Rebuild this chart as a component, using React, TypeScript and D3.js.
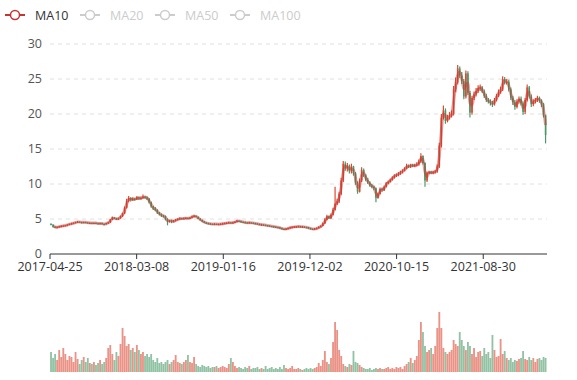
import React from 'react';
import * as d3 from 'd3';

const legendNames = ['MA10', 'MA20', 'MA50', 'MA100'];
const legendActive = [true, false, false, false];
const tickLabels = ['2017-04-25', '2018-03-08', '2019-01-16', '2019-12-02', '2020-10-15', '2021-08-30'];
const tickDayIndex = [0, 212, 424, 636, 848, 1060];
const totalDays = 1216;
const daysPerPoint = 5;
const yTicks = [0, 5, 10, 15, 20, 25, 30];
const firstOpen = 4.3;

const closes = [
  4.2, 3.9, 3.8, 3.85, 3.95, 4.0, 4.05, 4.1, 4.2, 4.3,
  4.35, 4.45, 4.55, 4.6, 4.55, 4.5, 4.55, 4.5, 4.45, 4.45,
  4.4, 4.45, 4.4, 4.35, 4.4, 4.3, 4.25, 4.4, 4.5, 4.9,
  5.2, 5.05, 5.0, 5.1, 5.4, 5.8, 6.6, 7.6, 8.0, 7.7,
  7.9, 7.8, 8.1, 7.9, 8.0, 8.2, 8.1, 7.9, 7.4, 6.8,
  6.5, 6.3, 5.9, 5.7, 5.5, 5.4, 5.0, 4.6, 4.8, 4.6,
  4.75, 4.9, 5.0, 5.1, 5.05, 5.1, 5.15, 5.1, 5.2, 5.35,
  5.45, 5.3, 5.05, 4.85, 4.65, 4.5, 4.4, 4.35, 4.3, 4.25,
  4.3, 4.25, 4.28, 4.3, 4.35, 4.4, 4.45, 4.5, 4.45, 4.5,
  4.6, 4.75, 4.7, 4.6, 4.55, 4.5, 4.45, 4.5, 4.45, 4.4,
  4.35, 4.3, 4.2, 4.2, 4.15, 4.1, 4.05, 4.0, 3.95, 3.9,
  3.85, 3.8, 3.7, 3.6, 3.55, 3.6, 3.7, 3.8, 3.85, 3.9,
  3.9, 3.95, 3.9, 3.9, 3.85, 3.8, 3.7, 3.6, 3.55, 3.6,
  3.7, 3.85, 4.0, 4.4, 4.9, 5.4, 5.1, 5.6, 6.3, 7.2,
  7.5, 8.6, 10.5, 12.9, 12.2, 12.6, 11.8, 12.5, 11.5, 10.2,
  8.9, 10.5, 12.0, 11.2, 10.6, 10.2, 9.8, 9.6, 9.4, 8.0,
  8.6, 9.3, 9.1, 9.6, 10.1, 10.3, 10.6, 10.9, 11.2, 11.3,
  11.5, 11.7, 11.9, 12.2, 12.6, 12.5, 12.7, 12.6, 12.7, 12.8,
  13.2, 14.0, 13.0, 10.5, 11.6, 11.7, 11.6, 11.7, 11.8, 12.5,
  15.5, 19.5, 20.5, 19.0, 19.5, 19.8, 20.0, 23.5, 24.5, 26.5,
  25.5, 24.7, 22.5, 25.8, 23.0, 20.2, 22.3, 22.8, 23.3, 23.7,
  23.8, 23.2, 22.6, 22.0, 21.8, 21.6, 21.4, 22.0, 22.6, 23.2,
  23.5, 25.0, 24.5, 24.6, 23.5, 22.3, 21.7, 21.0, 21.8, 22.2,
  21.5, 20.3, 22.0, 23.8, 22.5, 21.4, 21.8, 22.0, 22.3, 21.9,
  21.4, 19.8, 17.0,
];

const highs = [
  4.4, 4.25, 3.95, 3.95, 4.0, 4.1, 4.1, 4.15, 4.25, 4.35,
  4.45, 4.5, 4.6, 4.7, 4.65, 4.6, 4.6, 4.6, 4.55, 4.5,
  4.5, 4.5, 4.5, 4.45, 4.45, 4.45, 4.35, 4.45, 4.6, 5.0,
  5.35, 5.25, 5.15, 5.2, 5.5, 5.9, 6.8, 7.9, 8.3, 8.1,
  8.1, 8.0, 8.3, 8.2, 8.2, 8.5, 8.3, 8.2, 8.0, 7.5,
  6.9, 6.7, 6.4, 6.0, 5.8, 5.6, 5.5, 5.1, 4.9, 4.9,
  4.85, 5.0, 5.1, 5.2, 5.15, 5.2, 5.25, 5.2, 5.3, 5.5,
  5.6, 5.5, 5.35, 5.1, 4.9, 4.7, 4.55, 4.45, 4.4, 4.35,
  4.4, 4.35, 4.35, 4.4, 4.45, 4.5, 4.55, 4.6, 4.55, 4.6,
  4.7, 4.85, 4.8, 4.75, 4.65, 4.6, 4.55, 4.6, 4.55, 4.5,
  4.45, 4.4, 4.35, 4.3, 4.25, 4.2, 4.15, 4.1, 4.05, 4.0,
  3.95, 3.9, 3.85, 3.75, 3.65, 3.7, 3.8, 3.9, 3.95, 4.0,
  4.0, 4.05, 4.0, 4.0, 3.95, 3.9, 3.85, 3.75, 3.65, 3.7,
  3.8, 3.95, 4.1, 4.5, 5.1, 5.6, 5.5, 5.8, 6.6, 9.6,
  7.9, 8.9, 10.9, 13.3, 13.2, 13.0, 12.8, 12.9, 12.6, 11.7,
  10.4, 10.8, 12.4, 12.2, 11.4, 10.9, 10.4, 10.0, 9.8, 9.5,
  8.8, 9.5, 9.5, 9.8, 10.3, 10.5, 10.8, 11.1, 11.4, 11.5,
  11.7, 11.9, 12.1, 12.4, 12.9, 12.8, 12.9, 12.9, 12.9, 13.1,
  13.5, 14.4, 14.1, 13.1, 11.8, 11.9, 11.9, 11.9, 12.0, 12.8,
  15.9, 20.0, 21.2, 20.8, 19.9, 20.3, 20.5, 24.0, 25.2, 27.0,
  26.8, 26.0, 25.0, 26.2, 26.1, 23.3, 22.6, 23.2, 23.7, 24.1,
  24.2, 24.0, 23.5, 22.9, 22.3, 22.1, 21.9, 22.3, 22.9, 23.5,
  23.9, 25.4, 25.3, 25.0, 24.9, 23.8, 22.6, 22.0, 22.1, 22.5,
  22.5, 21.8, 22.3, 24.2, 24.0, 22.8, 22.1, 22.3, 22.6, 22.5,
  22.1, 21.6, 19.9,
];

const lows = [
  4.1, 3.8, 3.7, 3.75, 3.8, 3.9, 3.95, 4.0, 4.05, 4.15,
  4.25, 4.3, 4.4, 4.5, 4.45, 4.4, 4.45, 4.45, 4.4, 4.35,
  4.35, 4.35, 4.35, 4.3, 4.3, 4.25, 4.1, 4.2, 4.35, 4.45,
  4.85, 5.0, 4.9, 4.9, 5.05, 5.3, 5.7, 6.5, 7.4, 7.5,
  7.6, 7.6, 7.7, 7.7, 7.8, 7.9, 7.9, 7.7, 7.2, 6.6,
  6.3, 6.1, 5.7, 5.5, 5.3, 5.2, 4.8, 4.1, 4.5, 4.4,
  4.5, 4.65, 4.8, 4.9, 4.95, 4.95, 5.0, 5.0, 5.0, 5.1,
  5.25, 5.2, 5.0, 4.75, 4.55, 4.4, 4.3, 4.25, 4.2, 4.15,
  4.15, 4.15, 4.2, 4.2, 4.25, 4.3, 4.35, 4.4, 4.35, 4.4,
  4.45, 4.55, 4.6, 4.5, 4.45, 4.4, 4.35, 4.4, 4.35, 4.3,
  4.25, 4.2, 4.1, 4.1, 4.05, 4.0, 3.95, 3.9, 3.85, 3.8,
  3.75, 3.7, 3.6, 3.5, 3.45, 3.5, 3.55, 3.65, 3.75, 3.8,
  3.8, 3.85, 3.8, 3.8, 3.75, 3.7, 3.6, 3.5, 3.45, 3.5,
  3.55, 3.65, 3.8, 3.95, 4.3, 4.8, 5.0, 5.0, 5.5, 6.2,
  7.0, 7.3, 8.4, 10.3, 11.9, 11.8, 11.5, 11.5, 11.2, 9.9,
  8.6, 8.8, 10.3, 11.0, 10.4, 10.0, 9.6, 9.4, 9.1, 7.4,
  7.9, 8.5, 8.9, 9.0, 9.5, 10.0, 10.2, 10.5, 10.8, 11.0,
  11.1, 11.3, 11.5, 11.8, 12.1, 12.3, 12.3, 12.4, 12.4, 12.5,
  12.6, 13.0, 12.8, 9.6, 10.3, 11.4, 11.4, 11.4, 11.5, 11.6,
  12.3, 15.2, 19.2, 18.6, 18.8, 19.2, 19.5, 19.8, 23.1, 24.2,
  25.1, 24.3, 22.1, 22.2, 22.7, 19.5, 19.9, 22.0, 22.5, 23.0,
  23.3, 23.0, 22.3, 21.7, 21.5, 21.2, 21.0, 21.2, 21.8, 22.4,
  22.9, 23.3, 24.2, 24.2, 23.2, 22.0, 21.3, 20.6, 20.8, 21.5,
  21.2, 19.9, 20.0, 21.8, 22.2, 21.0, 21.1, 21.5, 21.7, 21.6,
  21.0, 19.5, 15.8,
];

const volumes = [
  20, 14, 18, 12, 22, 15, 24, 18, 12, 16,
  15, 10, 20, 13, 8, 12, 15, 10, 14, 9,
  8, 10, 7, 9, 12, 8, 10, 14, 24, 27,
  18, 12, 20, 16, 28, 44, 36, 26, 28, 22,
  24, 20, 27, 22, 18, 20, 16, 18, 15, 18,
  12, 10, 14, 9, 10, 8, 10, 12, 8, 10,
  12, 17, 10, 9, 8, 10, 12, 17, 10, 9,
  15, 8, 6, 5, 7, 6, 5, 6, 4, 5,
  5, 6, 4, 5, 6, 5, 4, 8, 14, 10,
  6, 4, 5, 4, 3, 5, 4, 6, 3, 4,
  4, 5, 3, 4, 3, 6, 3, 4, 5, 3,
  4, 3, 5, 3, 7, 4, 3, 4, 6, 3,
  3, 4, 3, 2, 3, 4, 3, 4, 3, 4,
  5, 9, 6, 12, 21, 10, 8, 14, 30, 50,
  42, 22, 16, 8, 6, 5, 8, 7, 21, 10,
  9, 7, 5, 4, 3, 3, 4, 2, 3, 4,
  3, 4, 3, 3, 4, 5, 3, 4, 3, 5,
  4, 5, 3, 6, 8, 10, 14, 9, 12, 16,
  32, 50, 40, 26, 20, 22, 24, 18, 26, 44,
  60, 44, 24, 20, 18, 20, 22, 32, 28, 26,
  40, 32, 26, 22, 30, 26, 18, 24, 15, 20,
  21, 16, 24, 18, 20, 14, 37, 22, 15, 16,
  33, 18, 21, 14, 12, 14, 10, 12, 11, 13,
  14, 21, 13, 12, 15, 12, 14, 10, 13, 14,
  12, 15, 14,
];

const UP = '#dc4a33';
const DOWN = '#4a9a68';
const MA_COLOR = '#c23531';
const FONT = '"Open Sans", "Noto Sans", sans-serif';

export default function App() {
  const W = 577;
  const H = 380;
  const x = d3.scaleLinear().domain([0, totalDays]).range([50, 547]);
  const y = d3.scaleLinear().domain([0, 30]).range([254, 44]);
  const v = d3.scaleLinear().domain([0, 70]).range([372, 302]);
  const step = x(daysPerPoint) - x(0);

  const data = closes.map((c, i) => {
    const o = i === 0 ? firstOpen : closes[i - 1];
    return { i, o, c, h: highs[i], l: lows[i], vol: volumes[i], cx: x(i * daysPerPoint + daysPerPoint / 2) };
  });

  const ma = data
    .map((d, i) => {
      if (i < 1) return null;
      const w = closes.slice(i - 1, i + 1);
      return { cx: d.cx, m: d3.mean(w) as number };
    })
    .filter(Boolean) as { cx: number; m: number }[];

  const line = d3
    .line<{ cx: number; m: number }>()
    .x((d) => d.cx)
    .y((d) => y(d.m))
    .curve(d3.curveMonotoneX);

  const bodyW = step * 0.8;

  return (
    <svg width={W} height={H} style={{ position: 'absolute', left: 0, top: 0, background: '#fff' }} fontFamily={FONT}>
      {/* legend */}
      {legendNames.map((n, k) => {
        const sx = 5 + k * 75;
        const col = legendActive[k] ? MA_COLOR : '#ccc';
        return (
          <g key={n}>
            <line x1={sx} x2={sx + 20} y1={15} y2={15} stroke={col} strokeWidth={2} />
            <circle cx={sx + 10} cy={15} r={4.5} fill="#fff" stroke={col} strokeWidth={1.5} />
            <text x={sx + 30} y={15} dy="0.36em" fontSize={12.5} fill={legendActive[k] ? '#333' : '#ccc'}>
              {n}
            </text>
          </g>
        );
      })}

      {/* y grid + labels */}
      {yTicks.map((t) => (
        <g key={t}>
          {t > 0 && (
            <line x1={50} x2={547} y1={y(t)} y2={y(t)} stroke="#e0e0e0" strokeDasharray="4 4" />
          )}
          <text x={42} y={y(t) - 1} dy="0.36em" textAnchor="end" fontSize={12.5} fill="#555">
            {t}
          </text>
        </g>
      ))}

      {/* candles */}
      {data.map((d) => {
        const col = d.c >= d.o ? UP : DOWN;
        const top = y(Math.max(d.o, d.c));
        const bot = y(Math.min(d.o, d.c));
        return (
          <g key={d.i}>
            <line x1={d.cx} x2={d.cx} y1={y(d.h)} y2={y(d.l)} stroke={col} strokeWidth={1.2} />
            <rect x={d.cx - bodyW / 2} y={top} width={bodyW} height={Math.max(1.2, bot - top)} fill={col} />
          </g>
        );
      })}

      {/* MA10 */}
      <path d={line(ma) || ''} fill="none" stroke={MA_COLOR} strokeWidth={3} strokeOpacity={0.45} />

      {/* x axis */}
      <line x1={50} x2={547} y1={254} y2={254} stroke="#333" />
      {tickDayIndex.map((t, k) => (
        <g key={t}>
          <line x1={x(t)} x2={x(t)} y1={254} y2={259} stroke="#333" />
          <text x={x(t)} y={271} textAnchor="middle" fontSize={12.5} fill="#333">
            {tickLabels[k]}
          </text>
        </g>
      ))}

      {/* volume */}
      {data.map((d) => (
        <rect
          key={'v' + d.i}
          x={d.cx - step * 0.45}
          y={v(d.vol)}
          width={step * 0.9}
          height={v(0) - v(d.vol)}
          fill={d.c >= d.o ? UP : DOWN}
          fillOpacity={0.6}
        />
      ))}
    </svg>
  );
}
